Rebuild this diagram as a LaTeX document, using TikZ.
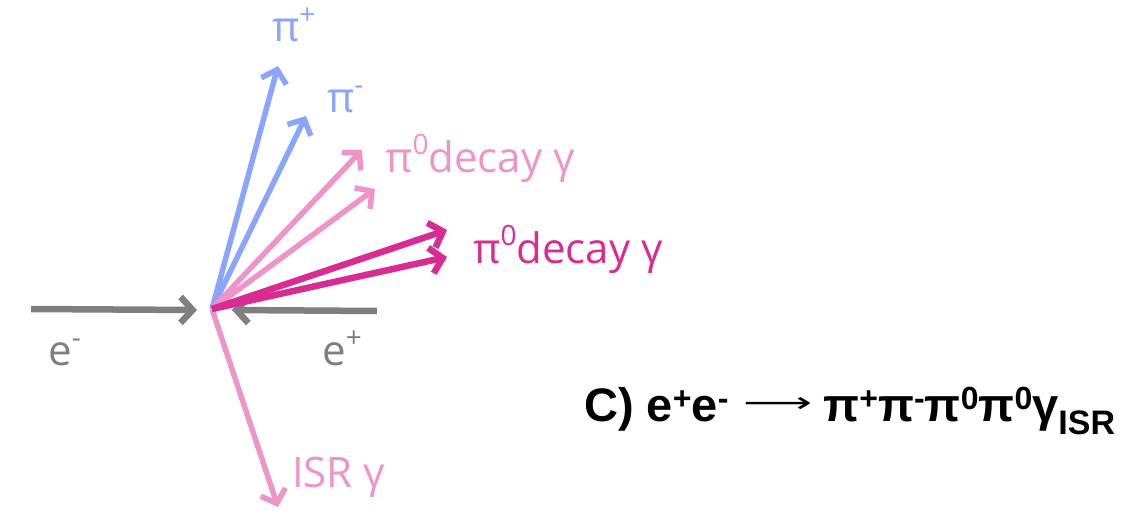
\documentclass[tikz,border=0pt]{standalone}
\usepackage{fontspec}
\usepackage{graphicx}
\usetikzlibrary{arrows.meta}
\newfontfamily\labfont{Open Sans}
\newfontfamily\ttlfont{Liberation Sans}
\newfontfamily\symfont{DejaVu Sans}
\definecolor{pblue}{RGB}{138,164,255}
\definecolor{ppink}{RGB}{238,148,200}
\definecolor{pmag}{RGB}{217,43,146}
\definecolor{pgray}{RGB}{127,127,127}
\tikzset{
  prt/.style={line width=5.5pt, -{Straight Barb[length=12pt,width=26pt]}},
  lab/.style={font=\labfont\fontsize{42}{48}\selectfont, inner sep=0pt, anchor=base west},
}
\newcommand{\sups}[1]{\raisebox{0.42em}{\fontsize{28}{30}\selectfont #1}}
\newcommand{\tsup}[1]{\raisebox{12pt}{\fontsize{32}{34}\selectfont #1}}
\newcommand{\tsub}[1]{\raisebox{-13pt}{\fontsize{34}{36}\selectfont #1}}
\begin{document}
\begin{tikzpicture}[x=1pt,y=-1pt]
\useasboundingbox (0,0) rectangle (1122,511);
\coordinate (v) at (212,309);
\coordinate (tpp) at (278,66);
\coordinate (tpm) at (306,116);
\coordinate (tg1) at (362,150);
\coordinate (tg2) at (375,189);
\coordinate (tg3) at (447,230);
\coordinate (tg4) at (447,257);
\coordinate (eml) at (31,309);
\coordinate (emt) at (197,310);
\coordinate (epl) at (377,311);
\coordinate (ept) at (232,310);
\coordinate (tisr) at (278,507);
\draw[prt, pgray, line width=6.5pt] (eml) -- (emt);
\draw[prt, pgray, line width=6.5pt] (epl) -- (ept);
\draw[prt, ppink] (v) -- (tisr);
\draw[prt, pblue] (v) -- (tpp);
\draw[prt, pblue] (v) -- (tpm);
\draw[prt, ppink] (v) -- (tg1);
\draw[prt, ppink] (v) -- (tg2);
\draw[prt, pmag, line width=6.5pt] (v) -- (tg3);
\draw[prt, pmag, line width=6.5pt] (v) -- (tg4);
\node[lab, text=pblue] (lpp) at (272,42) {π\sups{+}};
\node[lab, text=pblue] (lpm) at (327,112) {π\sups{-}};
\node[lab, text=ppink] (lg1) at (385,172) {π\sups{0}decay γ};
\node[lab, text=pmag] (lg3) at (473,263) {π\sups{0}decay γ};
\node[lab, text=pgray] (lem) at (48,365) {e\sups{-}};
\node[lab, text=pgray] (lep) at (322,365) {e\sups{+}};
\node[lab, text=ppink] (lisr) at (292,487) {ISR γ};
\node[inner sep=0pt, anchor=base west, font=\ttlfont\bfseries\fontsize{47}{52}\selectfont] (title) at (584,421)
  {C) e\tsup{+}e\tsup{-}\hspace{15pt}\raisebox{9pt}{\resizebox{69pt}{15pt}{\symfont\mdseries ⟶}}\hspace{11pt}π\tsup{+}π\tsup{-}π\tsup{0}π\tsup{0}γ\tsub{ISR}};
\end{tikzpicture}
\end{document}
